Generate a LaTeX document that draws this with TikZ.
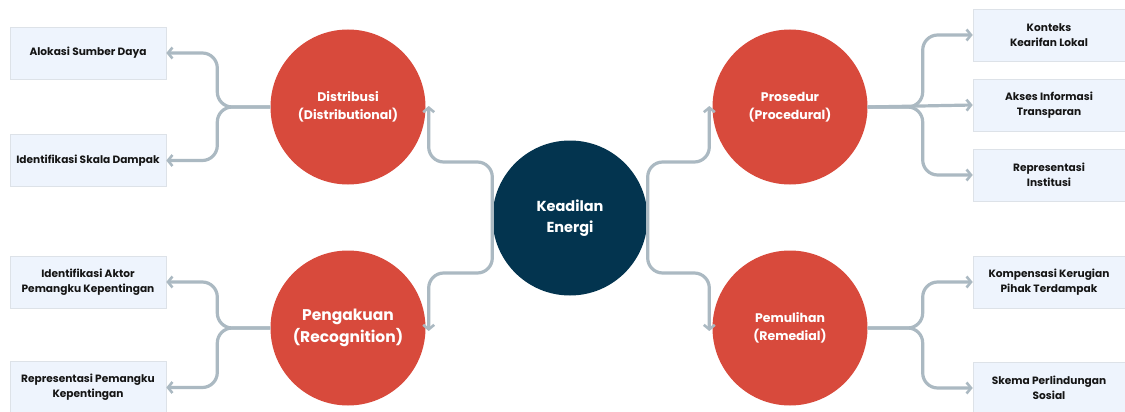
\documentclass[tikz,border=0pt]{standalone}
\usepackage{fontspec}
\setmainfont{Poppins}
\usetikzlibrary{arrows.meta}
\definecolor{cred}{HTML}{D84A3C}
\definecolor{cnavy}{HTML}{03344F}
\definecolor{cgray}{HTML}{ABB9C2}
\definecolor{cbox}{HTML}{EEF4FD}
\definecolor{cboxline}{HTML}{DDE2E8}
\definecolor{ctext}{HTML}{151515}
\tikzset{
  redc/.style={circle, fill=cred, minimum size=155pt, inner sep=0pt, text=white, font=\bfseries\fontsize{12.5}{18}\selectfont, align=center},
  navyc/.style={circle, fill=cnavy, minimum size=155pt, inner sep=0pt, text=white, font=\bfseries\fontsize{14.5}{21}\selectfont, align=center},
  lbox/.style={rectangle, fill=cbox, draw=cboxline, line width=0.6pt, minimum width=156pt, minimum height=52pt, inner sep=0pt, text=ctext, font=\bfseries\fontsize{10.6}{15}\selectfont, align=center},
  rbox/.style={lbox, minimum width=152pt},
  conn/.style={draw=cgray, line width=3.2pt, rounded corners=15pt, -{Straight Barb[length=4.5pt,width=11pt,line width=2.6pt]}},
}
\begin{document}
\begin{tikzpicture}[x=1pt,y=-1pt]
\useasboundingbox (0,0) rectangle (1125,412);
% circles
\node[navyc] (ke) at (570,218) {Keadilan\\Energi};
\node[redc] (dist) at (348,107) {Distribusi\\(Distributional)};
\node[redc, font=\bfseries\fontsize{15.5}{22}\selectfont] (peng) at (348,328) {Pengakuan\\(Recognition)};
\node[redc] (pros) at (790,107) {Prosedur\\(Procedural)};
\node[redc] (pem) at (790,328) {Pemulihan\\(Remedial)};
% left boxes
\node[lbox] (l1) at (88,53) {Alokasi Sumber Daya};
\node[lbox] (l2) at (88,160.5) {Identifikasi Skala Dampak};
\node[lbox] (l3) at (88,282) {Identifikasi Aktor\\Pemangku Kepentingan};
\node[lbox] (l4) at (88,387.5) {Representasi Pemangku\\Kepentingan};
% right boxes
\node[rbox] (r1) at (1049,35) {Konteks\\Kearifan Lokal};
\node[rbox] (r2) at (1049,105) {Akses Informasi\\Transparan};
\node[rbox] (r3) at (1049,175) {Representasi\\Institusi};
\node[rbox] (r4) at (1049,282) {Kompensasi Kerugian\\Pihak Terdampak};
\node[rbox] (r5) at (1049,388) {Skema Perlindungan\\Sosial};
% center connectors
\draw[conn] (ke.west) -- ++(0,-56) -| ([xshift=3pt,yshift=1pt]dist.east);
\draw[conn] (ke.west) -- ++(0,55) -| ([xshift=3pt,yshift=-3pt]peng.east);
\draw[conn] (ke.east) -- ++(0,-56) -| ([xshift=-3pt,yshift=1pt]pros.west);
\draw[conn] (ke.east) -- ++(0,55) -| ([xshift=-3pt,yshift=-3pt]pem.west);
% left branches
\draw[conn] (dist.west) -- ++(-53,0) |- (l1.east);
\draw[conn] (dist.west) -- ++(-53,0) |- (l2.east);
\draw[conn] (peng.west) -- ++(-53,0) |- (l3.east);
\draw[conn] (peng.west) -- ++(-53,0) |- (l4.east);
% right branches
\draw[conn] (pros.east) -- ++(55,0) |- (r1.west);
\draw[conn] (pros.east) -- (r2.west);
\draw[conn] (pros.east) -- ++(55,0) |- (r3.west);
\draw[conn] (pem.east) -- ++(55,0) |- (r4.west);
\draw[conn] (pem.east) -- ++(55,0) |- (r5.west);
\end{tikzpicture}
\end{document}
